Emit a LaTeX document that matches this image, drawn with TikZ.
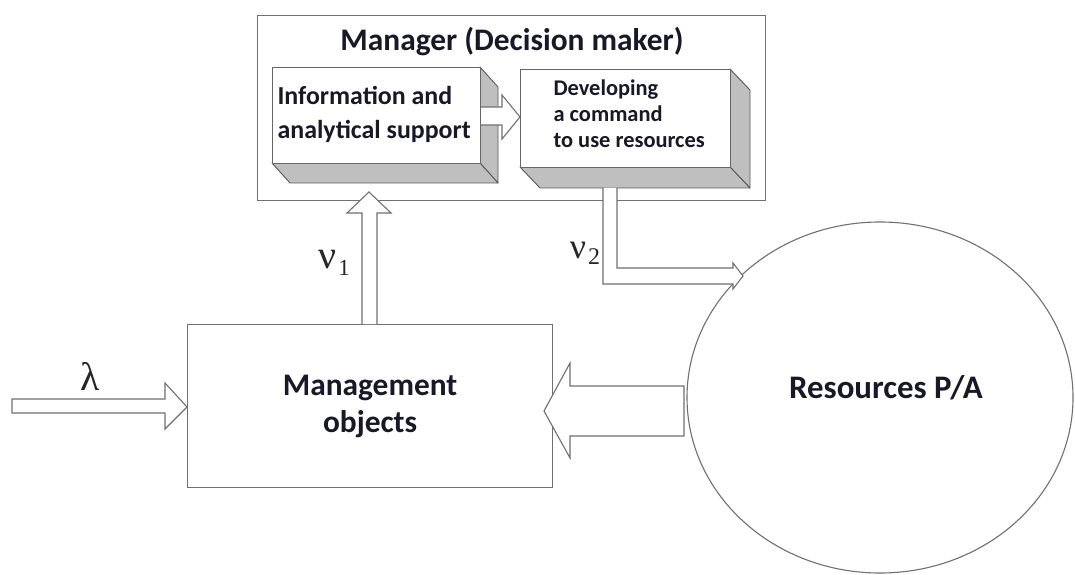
\documentclass[tikz,border=0pt]{standalone}
\usepackage{fontspec}
\setmainfont{Carlito}
\newfontfamily\gsf{Liberation Serif}
\usetikzlibrary{shapes.geometric}
\definecolor{txt}{RGB}{24,24,40}
\definecolor{ln}{RGB}{112,112,112}
\begin{document}
\begin{tikzpicture}[x=1bp,y=-1bp,line width=1.1bp,
  box/.style={draw=ln, fill=white, inner sep=0pt},
  face/.style={fill=black!25, draw=black!65, line width=0.9bp, line join=round},
  blk/.style={draw=ln, line join=miter},
  lbl/.style={text=txt, inner sep=0pt},
  greek/.style={text=black!85, inner sep=0pt, font=\gsf\fontsize{40}{40}\selectfont}]
\useasboundingbox (0,0) rectangle (1075,575);

% Manager frame
\node[box, minimum width=508bp, minimum height=185bp, anchor=north west] (mgr) at (257,15) {};
\node[lbl, font=\bfseries\fontsize{31.5}{31.5}\selectfont] (title) at (512,42) {Manager (Decision maker)};

% 3D box: information and analytical support
\draw[face] (480,67) -- (498,87) -- (498,183) -- (480,163) -- cycle;
\draw[face] (272,163) -- (290,183) -- (498,183) -- (480,163) -- cycle;
\node[box, draw=black!60, minimum width=208bp, minimum height=96bp, anchor=north west] (info) at (272,67) {};
\node[lbl, anchor=west, align=left, font=\bfseries\fontsize{26}{34}\selectfont] (infot) at (277,114) {Information and\\analytical support};

% 3D box: developing a command
\draw[face] (730,69) -- (750,90) -- (750,188) -- (730,167) -- cycle;
\draw[face] (520,167) -- (540,188) -- (750,188) -- (730,167) -- cycle;
\node[box, draw=black!60, minimum width=210bp, minimum height=98bp, anchor=north west] (dev) at (520,69) {};
\node[lbl, anchor=west, align=left, font=\bfseries\fontsize{22.5}{26}\selectfont] (devt) at (553,113.5) {Developing\\a command\\to use resources};

% arrow info -> dev
\fill[white] (info.east |- 0,107) -- (502,107) -- (502,95) -- (dev.west |- 0,117) -- (502,139) -- (502,125) -- (info.east |- 0,125) -- cycle;
\draw[blk] (info.east |- 0,107) -- (502,107) -- (502,95) -- (dev.west |- 0,117) -- (502,139) -- (502,125) -- (info.east |- 0,125);

% Management objects
\node[box, minimum width=365bp, minimum height=163bp, anchor=north west, text=txt, align=center,
      font=\bfseries\fontsize{31.5}{37}\selectfont] (mo) at (187,324) {Management\\objects};

% Resources ellipse
\node[draw=ln, ellipse, minimum width=386bp, minimum height=351bp, inner sep=0pt] (res) at (880,397.5) {};
\node[lbl, font=\bfseries\fontsize{33}{33}\selectfont] (reslbl) at (886,388) {Resources P/A};

% nu1 arrow: management objects -> manager
\coordinate (v1tip) at (369,192);
\fill[white] (362,324) -- (362,213) -- (347,213) -- (v1tip) -- (391,213) -- (377,213) -- (377,324) -- cycle;
\draw[blk] (362,324) -- (362,213) -- (347,213) -- (v1tip) -- (391,213) -- (377,213) -- (377,324);
\node[greek] (nu1) at (328,260) {ν};
\node[text=black!85, inner sep=0pt, font=\gsf\fontsize{23}{23}\selectfont] (nu1s) at (344,268) {1};

% nu2 arrow: developing -> resources
\coordinate (v2tip) at (743,276);
\fill[white] (603,188) -- (603,284) -- (733,284) -- (733,289) -- (v2tip) -- (733,263) -- (733,268) -- (617,268) -- (617,188) -- cycle;
\draw[blk] (603,188) -- (603,284) -- (733,284) -- (733,289) -- (v2tip) -- (733,263) -- (733,268) -- (617,268) -- (617,188);
\node[greek, font=\gsf\fontsize{36}{36}\selectfont] (nu2) at (578,250) {ν};
\node[text=black!85, inner sep=0pt, font=\gsf\fontsize{24}{24}\selectfont] (nu2s) at (594,257) {2};

% lambda arrow -> management objects
\draw[blk, fill=white] (12,399) -- (165,399) -- (165,383) -- (mo.west |- 0,407) -- (165,429) -- (165,413) -- (12,413) -- cycle;
\node[greek] (lam) at (90,376) {λ};

% resources -> management objects
\draw[blk, fill=white] (684,386) -- (570,386) -- (570,363) -- (544,411) -- (570,458) -- (570,436) -- (684,436) -- cycle;
\end{tikzpicture}
\end{document}
